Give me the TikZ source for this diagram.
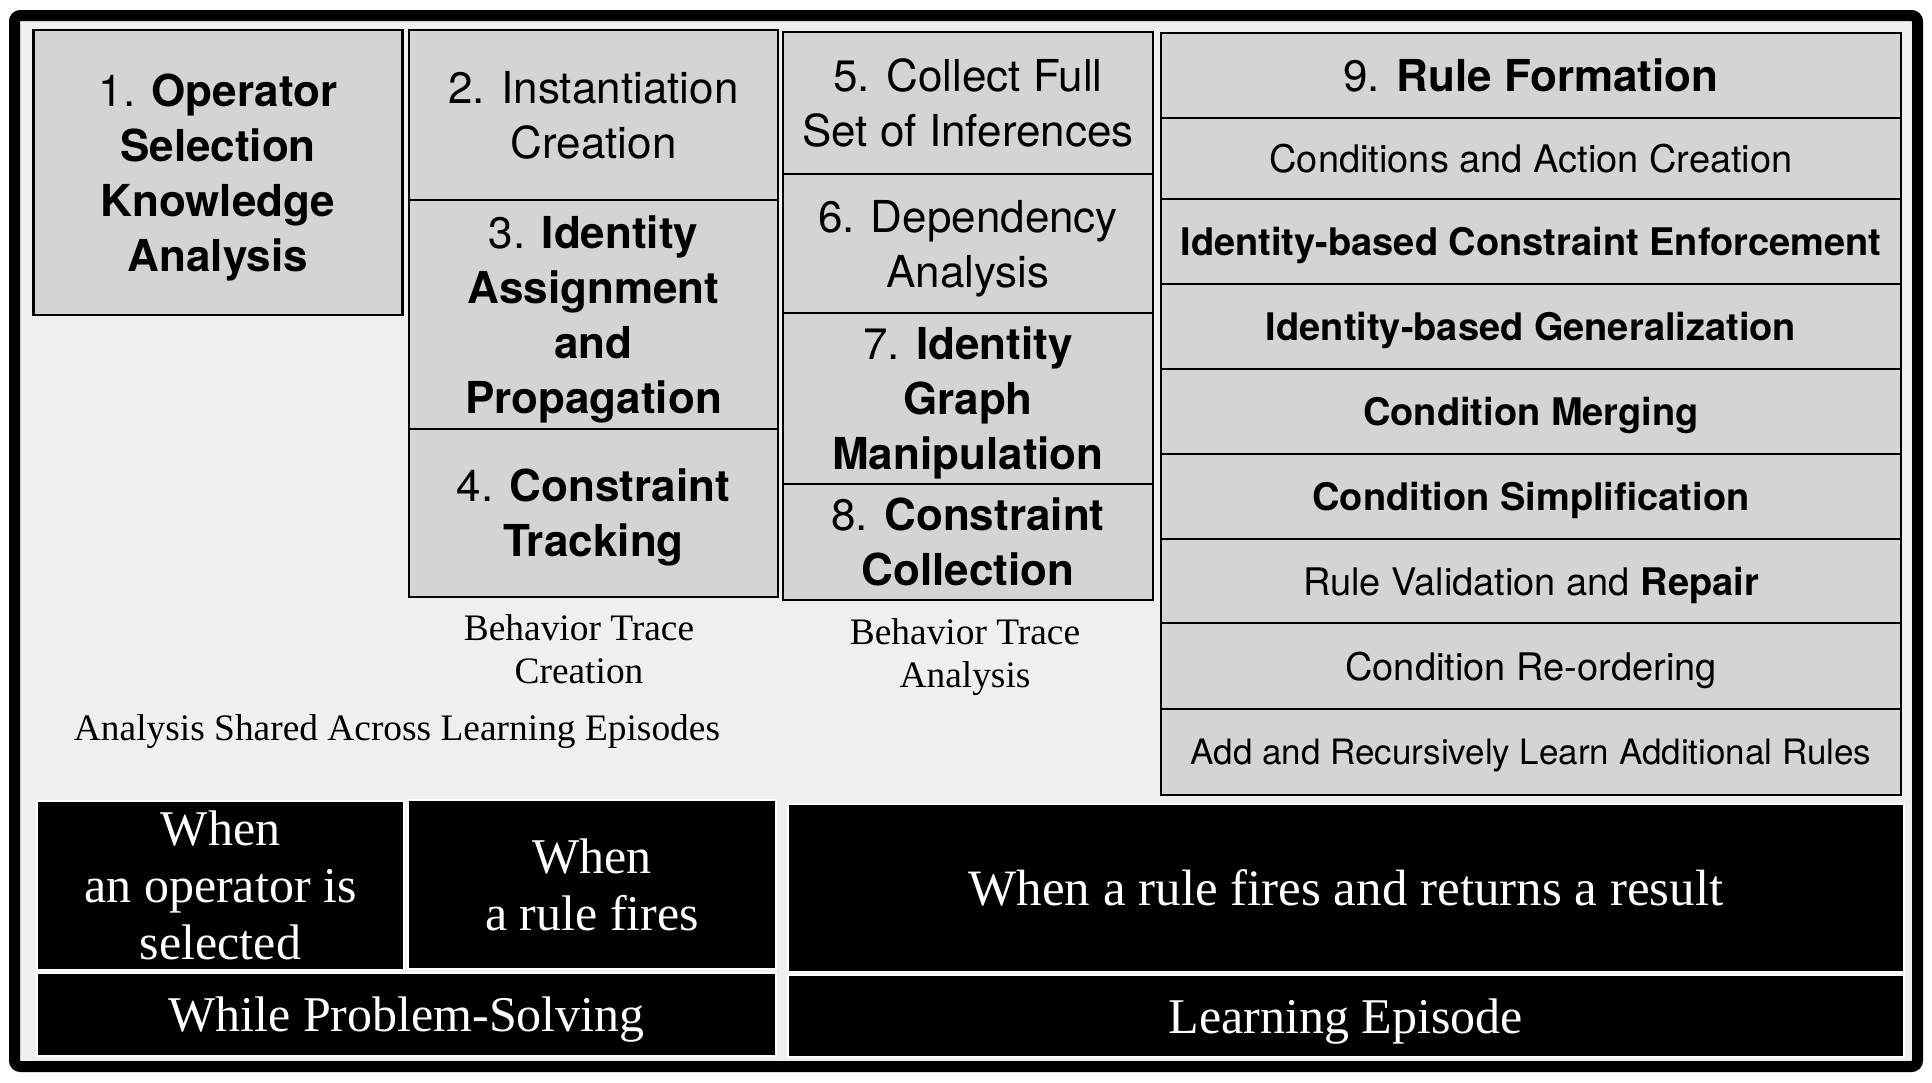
\documentclass[tikz,border=0pt]{standalone}
\usepackage{fontspec}
\setmainfont{Liberation Serif}
\setsansfont{TeX Gyre Heros}
\usetikzlibrary{positioning}
\definecolor{panelgray}{HTML}{EFEFEF}
\definecolor{boxgray}{HTML}{D4D4D4}
\tikzset{
	stage/.style={draw, rectangle, line width=1.4pt, fill=boxgray, inner sep=0pt, outer sep=0pt, align=center, text depth=0pt, font=\sffamily\fontsize{22pt}{27.5pt}\selectfont},
	substage/.style={stage, minimum width=370pt, minimum height=42.5pt, font=\sffamily\fontsize{19pt}{23pt}\selectfont},
	phase/.style={draw=white, rectangle, line width=1pt, fill=black, text=white, inner sep=0pt, outer sep=0pt, align=center, text depth=0pt, anchor=north west, font=\fontsize{25pt}{28.5pt}\selectfont},
	% labels under the columns
	note/.style={align=center, text depth=0pt, font=\fontsize{18.7pt}{21.5pt}\selectfont},
}

\begin{document}
\begin{tikzpicture}[x=1pt, y=-1pt]

\useasboundingbox (0,0) rectangle (966,541);
\draw [line width=5.5pt, rounded corners=3pt, fill=panelgray] (7.25,7.75) rectangle (958.75,533.25);

\node (opsel) [stage, anchor=north west, minimum width=184.5pt, minimum height=142.5pt] at (16.75,15) {1. \textbf{Operator}\\ \textbf{Selection}\\ \textbf{Knowledge}\\ \textbf{Analysis}};

\node (inst) [stage, anchor=north west, minimum width=184.5pt, minimum height=85pt] at (204.5,15) {2. Instantiation\\ Creation};

\node (ident) [stage, below=0pt of inst, minimum width=184.5pt, minimum height=114.5pt] {3. \textbf{Identity}\\ \textbf{Assignment}\\ \textbf{and}\\ \textbf{Propagation}};

\node (track) [stage, below=0pt of ident, minimum width=184.5pt, minimum height=84pt] {4. \textbf{Constraint}\\ \textbf{Tracking}};

\node (collect) [stage, anchor=north west, minimum width=185pt, minimum height=71pt] at (391.5,16) {5. Collect Full\\ Set of Inferences};

\node (depend) [stage, below=0pt of collect, minimum width=185pt, minimum height=69.5pt] {6. Dependency\\ Analysis};

\node (graph) [stage, below=0pt of depend, minimum width=185pt, minimum height=85.5pt] {7. \textbf{Identity}\\ \textbf{Graph}\\ \textbf{Manipulation}};

\node (collection) [stage, below=0pt of graph, minimum width=185pt, minimum height=58pt] {8. \textbf{Constraint}\\ \textbf{Collection}};

\node (ruleform) [substage, anchor=north west, font=\sffamily\fontsize{22pt}{27.5pt}\selectfont] at (580.5,16.5) {9. \textbf{Rule Formation}};
\node (condact) [substage, below=0pt of ruleform, minimum height=40.5pt] {Conditions and Action Creation};
\node (enforce) [substage, below=0pt of condact] {\textbf{Identity-based Constraint Enforcement}};
\node (general) [substage, below=0pt of enforce] {\textbf{Identity-based Generalization}};
\node (merge) [substage, below=0pt of general] {\textbf{Condition Merging}};
\node (simplify) [substage, below=0pt of merge] {\textbf{Condition Simplification}};
\node (validate) [substage, below=0pt of simplify, minimum height=42pt] {Rule Validation and \textbf{Repair}};
\node (reorder) [substage, below=0pt of validate, minimum height=43pt] {Condition Re-ordering};
\node (recurse) [substage, below=0pt of reorder, minimum height=43pt, font=\sffamily\fontsize{17.5pt}{21pt}\selectfont] {Add and Recursively Learn Additional Rules};

\node (tracenote) [note] at (289.5,324.75) {Behavior Trace\\ Creation};
\node (analysisnote) [note] at (482.5,326.5) {Behavior Trace\\ Analysis};
\node (sharednote) [note] at (198.5,364) {Analysis Shared Across Learning Episodes};

\node (opwhen) [phase, minimum width=183.5pt, minimum height=84.5pt] at (18.5,400.5) {When\\ an operator is\\ selected};
\node (firewhen) [phase, minimum width=184pt, minimum height=84.5pt] at (204,400) {When\\ a rule fires};
\node (resultwhen) [phase, minimum width=558pt, minimum height=84pt, font=\fontsize{25.5pt}{28.5pt}\selectfont] at (394,402) {When a rule fires and returns a result};
\node (solving) [phase, minimum width=369.5pt, minimum height=41.5pt] at (18.5,486.5) {While Problem-Solving};
\node (episode) [phase, minimum width=558pt, minimum height=41pt] at (394,487.5) {Learning Episode};

\end{tikzpicture}
\end{document}
